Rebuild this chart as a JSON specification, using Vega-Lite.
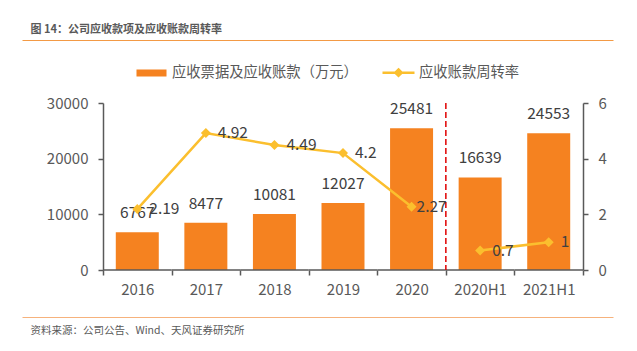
{
  "$schema": "https://vega.github.io/schema/vega-lite/v6.json",
  "width": 591,
  "height": 167,
  "autosize": {"type": "none"},
  "padding": {"left": 22, "top": 103, "right": 24, "bottom": 81},
  "background": "white",
  "config": {
    "view": {"stroke": null},
    "font": "Noto Sans CJK SC",
    "axis": {"grid": false}
  },
  "data": {
    "values": [
      {"year": "2016", "ar": 6767, "t": 2.19, "seg": "A"},
      {"year": "2017", "ar": 8477, "t": 4.92, "seg": "A"},
      {"year": "2018", "ar": 10081, "t": 4.49, "seg": "A"},
      {"year": "2019", "ar": 12027, "t": 4.2, "seg": "A"},
      {"year": "2020", "ar": 25481, "t": 2.27, "seg": "A"},
      {"year": "2020H1", "ar": 16639, "t": 0.7, "seg": "B"},
      {"year": "2021H1", "ar": 24553, "t": 1, "seg": "B"}
    ]
  },
  "resolve": {
    "scale": {"y": "independent"},
    "axis": {"x": "independent", "y": "independent"}
  },
  "layer": [
    {
      "mark": {"type": "bar", "width": {"band": 0.627}},
      "encoding": {
        "x": {
          "field": "year", "type": "nominal",
          "scale": {"domain": ["2016", "2017", "2018", "2019", "2020", "2020H1", "2021H1"], "paddingInner": 0, "paddingOuter": 0.8094, "align": 0.7297},
          "axis": {"orient": "bottom", "title": null, "domain": false, "tickBand": "extent", "tickSize": 5, "tickWidth": 1.5, "tickColor": "#595959", "labelFontSize": 15, "labelColor": "#595959", "labelPadding": 7, "labelAngle": 0}
        },
        "y": {
          "field": "ar", "type": "quantitative",
          "scale": {"domain": [0, 30000], "nice": false},
          "axis": {"orient": "left", "offset": -81, "values": [0, 10000, 20000, 30000], "format": "d", "title": null, "domainColor": "#595959", "domainWidth": 1.5, "tickColor": "#595959", "tickWidth": 1.5, "tickSize": 5, "labelFontSize": 15, "labelColor": "#595959", "labelPadding": 10}
        },
        "color": {
          "datum": "应收票据及应收账款（万元）",
          "type": "nominal",
          "scale": {"domain": ["应收票据及应收账款（万元）", "应收账款周转率"], "range": ["#F58220", "#FBBF2E"]},
          "legend": {
            "title": null,
            "orient": "none",
            "legendX": 112,
            "legendY": -48,
            "direction": "horizontal",
            "symbolSize": 1024,
            "labelFontSize": 14.3,
            "labelColor": "#595959",
            "labelOffset": 3,
            "labelLimit": 400,
            "columnPadding": 19,
            "padding": 0,
            "symbolStrokeWidth": 2.5,
            "encode": {
              "symbols": {
                "update": {
                  "shape": {"signal": "datum.value === '应收账款周转率' ? 'M-1,0H1M0,-0.2L0.2,0L0,0.2L-0.2,0Z' : 'M-0.86,-0.14H0.86V0.14H-0.86Z'"},
                  "fill": {"scale": "color", "field": "value"},
                  "stroke": {"scale": "color", "field": "value"},
                  "strokeWidth": {"value": 2.5},
                  "opacity": {"value": 1},
                  "fillOpacity": {"value": 1}
                }
              }
            }
          }
        }
      }
    },
    {
      "mark": {"type": "bar", "width": {"band": 1}, "filled": false, "color": "#595959", "strokeWidth": 1.5},
      "encoding": {
        "x": {
          "field": "year", "type": "nominal",
          "scale": {"domain": ["2016", "2017", "2018", "2019", "2020", "2020H1", "2021H1"], "paddingInner": 0, "paddingOuter": 0.8094, "align": 0.7297},
          "axis": {"orient": "bottom", "offset": 47, "labels": false, "ticks": false, "domainColor": "#F6B27C", "domainWidth": 1, "title": "资料来源：公司公告、Wind、天风证券研究所", "titleFontSize": 10.5, "titleFontWeight": "normal", "titleColor": "#595959", "titleAnchor": "start", "titleAlign": "left", "titleX": 8, "titlePadding": 8}
        },
        "y": {"datum": 0, "type": "quantitative", "scale": {"domain": [0, 30000], "nice": false}, "axis": null},
        "y2": {"datum": 0}
      }
    },
    {
      "mark": {"type": "text", "baseline": "middle", "dy": -19, "fontSize": 15.5, "color": "#404040"},
      "encoding": {
        "x": {"field": "year", "type": "nominal", "scale": {"domain": ["2016", "2017", "2018", "2019", "2020", "2020H1", "2021H1"], "paddingInner": 0, "paddingOuter": 0.8094, "align": 0.7297}, "axis": null},
        "y": {"field": "ar", "type": "quantitative", "scale": {"domain": [0, 30000], "nice": false}, "axis": null},
        "text": {"field": "ar", "type": "nominal"}
      }
    },
    {
      "transform": [{"filter": "datum.year === '2020'"}],
      "mark": {"type": "rule", "color": "#E00000", "strokeDash": [6, 3], "strokeWidth": 1.5},
      "encoding": {
        "x": {
          "field": "year", "type": "nominal", "bandPosition": 1,
          "scale": {"domain": ["2016", "2017", "2018", "2019", "2020", "2020H1", "2021H1"], "paddingInner": 0, "paddingOuter": 0.8094, "align": 0.7297},
          "axis": {"orient": "top", "offset": 63, "labels": false, "ticks": false, "domainColor": "#F39A45", "domainWidth": 1, "title": "图 14：公司应收款项及应收账款周转率", "titleFontSize": 11, "titleFontWeight": "bold", "titleColor": "#595959", "titleAnchor": "start", "titleAlign": "left", "titleX": 8, "titlePadding": 6}
        }
      }
    },
    {
      "mark": {"type": "line", "strokeWidth": 2.5},
      "encoding": {
        "x": {"field": "year", "type": "nominal", "scale": {"domain": ["2016", "2017", "2018", "2019", "2020", "2020H1", "2021H1"], "paddingInner": 0, "paddingOuter": 0.8094, "align": 0.7297}, "axis": null},
        "y": {
          "field": "t", "type": "quantitative",
          "scale": {"domain": [0, 6], "nice": false},
          "axis": {"orient": "right", "offset": -30, "values": [0, 2, 4, 6], "title": null, "domainColor": "#595959", "domainWidth": 1.5, "tickColor": "#595959", "tickWidth": 1.5, "tickSize": 5, "labelFontSize": 15, "labelColor": "#595959", "labelPadding": 10}
        },
        "color": {"datum": "应收账款周转率", "type": "nominal"},
        "detail": {"field": "seg", "type": "nominal"}
      }
    },
    {
      "mark": {"type": "point", "shape": "diamond", "filled": true, "size": 100, "color": "#FBBF2E", "opacity": 1},
      "encoding": {
        "x": {"field": "year", "type": "nominal", "scale": {"domain": ["2016", "2017", "2018", "2019", "2020", "2020H1", "2021H1"], "paddingInner": 0, "paddingOuter": 0.8094, "align": 0.7297}, "axis": null},
        "y": {"field": "t", "type": "quantitative", "scale": {"domain": [0, 6], "nice": false}, "axis": null}
      }
    },
    {
      "transform": [{"filter": "datum.year !== '2020'"}],
      "mark": {"type": "text", "align": "left", "baseline": "middle", "dx": 12, "fontSize": 15.5, "color": "#404040"},
      "encoding": {
        "x": {"field": "year", "type": "nominal", "scale": {"domain": ["2016", "2017", "2018", "2019", "2020", "2020H1", "2021H1"], "paddingInner": 0, "paddingOuter": 0.8094, "align": 0.7297}, "axis": null},
        "y": {"field": "t", "type": "quantitative", "scale": {"domain": [0, 6], "nice": false}, "axis": null},
        "text": {"field": "t", "type": "nominal"}
      }
    },
    {
      "transform": [{"filter": "datum.year === '2020'"}],
      "mark": {"type": "text", "align": "left", "baseline": "middle", "dx": 5, "fontSize": 15.5, "color": "#404040"},
      "encoding": {
        "x": {"field": "year", "type": "nominal", "scale": {"domain": ["2016", "2017", "2018", "2019", "2020", "2020H1", "2021H1"], "paddingInner": 0, "paddingOuter": 0.8094, "align": 0.7297}, "axis": null},
        "y": {"field": "t", "type": "quantitative", "scale": {"domain": [0, 6], "nice": false}, "axis": null},
        "text": {"field": "t", "type": "nominal"}
      }
    }
  ]
}
